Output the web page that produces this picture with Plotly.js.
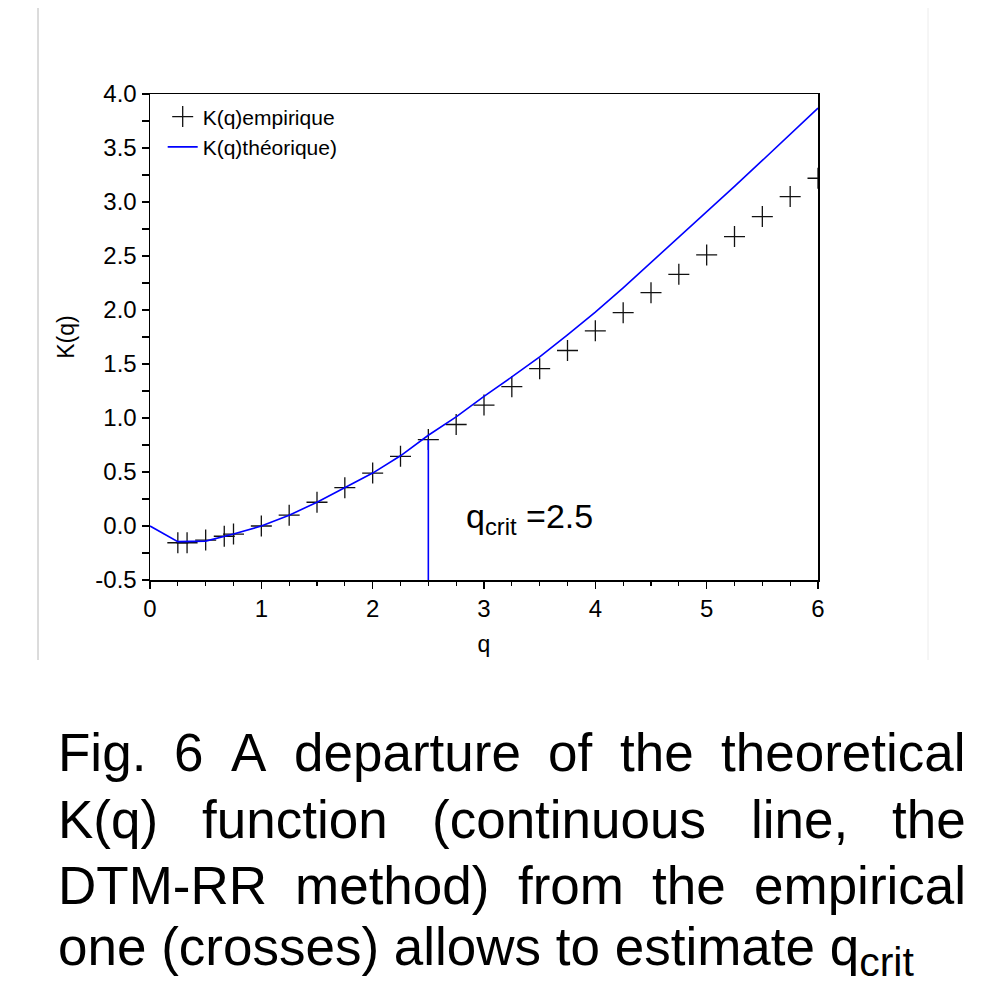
<!DOCTYPE html>
<html><head><meta charset="utf-8">
<script src="https://cdn.plot.ly/plotly-3.0.1.min.js"></script>
<style>html,body{margin:0;padding:0;background:#fff;}#chart{width:994px;height:988px;}</style>
</head><body><div id="chart"></div>
<script>
// ---- data ----
const qTheo = [0, 0.25, 0.5, 0.75, 1, 1.25, 1.5, 1.75, 2, 2.25, 2.5, 2.75, 3, 3.25, 3.5, 3.75, 4, 4.25, 4.5, 4.75, 5, 5.25, 5.5, 5.75, 6];
const kTheo = [0, -0.145, -0.14, -0.075, 0, 0.10, 0.22, 0.355, 0.49, 0.65, 0.84, 1.01, 1.20, 1.38, 1.565, 1.77, 1.98, 2.205, 2.44, 2.675, 2.905, 3.145, 3.385, 3.625, 3.87];
const qEmp = [0.25, 0.333, 0.5, 0.667, 0.75, 1, 1.25, 1.5, 1.75, 2, 2.25, 2.5, 2.75, 3, 3.25, 3.5, 3.75, 4, 4.25, 4.5, 4.75, 5, 5.25, 5.5, 5.75, 6];
const kEmp = [-0.155, -0.155, -0.13, -0.095, -0.075, 0.0, 0.10, 0.22, 0.355, 0.49, 0.645, 0.80, 0.94, 1.12, 1.29, 1.457, 1.625, 1.807, 1.975, 2.16, 2.33, 2.51, 2.68, 2.865, 3.05, 3.22];
const qCritX = [2.5, 2.5];
const qCritY = [-0.5, 0.8];
const seriesNames = ['K(q)empirique', 'K(q)théorique)'];
const xTickVals = [0, 1, 2, 3, 4, 5, 6];
const xTickText = ['0', '1', '2', '3', '4', '5', '6'];
const yTickVals = [-0.5, 0, 0.5, 1, 1.5, 2, 2.5, 3, 3.5, 4];
const yTickText = ['-0.5', '0.0', '0.5', '1.0', '1.5', '2.0', '2.5', '3.0', '3.5', '4.0'];
const xTitle = 'q';
const yTitle = 'K(q)';
const critLabel = 'q<sub>crit</sub> =2.5';
const captionJustified = [
  ['Fig.', '6', 'A', 'departure', 'of', 'the', 'theoretical'],
  ['K(q)', 'function', '(continuous', 'line,', 'the'],
  ['DTM-RR', 'method)', 'from', 'the', 'empirical']
];
const captionLast = 'one (crosses) allows to estimate q<sub><span style="font-size:41px">crit</span></sub>';

// ---- layout helpers (pixel -> paper) ----
const W = 994, H = 988;
const M = {l: 150, r: 176, t: 94, b: 408};
const PW = W - M.l - M.r, PH = H - M.t - M.b;
const px = v => (v - M.l) / PW;
const py = v => (H - M.b - v) / PH;
const FONT = '"Liberation Sans", Arial, sans-serif';
const CAP = 53;

const ctx = document.createElement('canvas').getContext('2d');
ctx.font = CAP + 'px "Liberation Sans"';
const capLeft = 57, capRight = 965;
const capCenters = [752, 819, 885, 951];
const annotations = [];
captionJustified.forEach((words, i) => {
  const widths = words.map(w => ctx.measureText(w).width);
  const total = widths.reduce((a, b) => a + b, 0);
  const gap = (capRight - capLeft - total) / (words.length - 1);
  let x = capLeft;
  words.forEach((w, j) => {
    annotations.push({text: w, xref: 'paper', yref: 'paper', x: px(x), y: py(capCenters[i]),
      xanchor: 'left', yanchor: 'middle', showarrow: false, borderpad: 0,
      font: {family: FONT, size: CAP, color: '#000'}});
    x += widths[j] + gap;
  });
});
annotations.push({text: captionLast, xref: 'paper', yref: 'paper', x: px(capLeft), y: py(capCenters[3]),
  xanchor: 'left', yanchor: 'middle', showarrow: false, borderpad: 0,
  font: {family: FONT, size: CAP, color: '#000'}});
annotations.push({text: critLabel, xref: 'paper', yref: 'paper', x: px(465), y: py(518),
  xanchor: 'left', yanchor: 'middle', showarrow: false, borderpad: 0,
  font: {family: FONT, size: 34, color: '#000'}});

const traces = [
  {x: qEmp, y: kEmp, name: seriesNames[0], type: 'scatter', mode: 'markers',
   marker: {symbol: 'cross-thin', size: 15, color: '#111', line: {width: 1.3, color: '#111'}}},
  {x: qTheo, y: kTheo, name: seriesNames[1], type: 'scatter', mode: 'lines',
   line: {color: '#0000ff', width: 1.6}},
  {x: qCritX, y: qCritY, type: 'scatter', mode: 'lines', showlegend: false,
   line: {color: '#0000ff', width: 1.6}}
];

const axisCommon = {
  showline: true, linecolor: '#000', linewidth: 1.5, mirror: true,
  ticks: 'outside', ticklen: 7, tickwidth: 1.3, tickcolor: '#000',
  showgrid: false, zeroline: false,
  tickfont: {family: FONT, size: 24, color: '#000'}
};

const layout = {
  width: W, height: H, margin: M,
  paper_bgcolor: '#fff', plot_bgcolor: '#fff',
  showlegend: true,
  legend: {x: 0.019, y: 0.995, xanchor: 'left', yanchor: 'top', bgcolor: 'rgba(0,0,0,0)',
    font: {family: FONT, size: 21, color: '#000'}, tracegroupgap: 0, itemwidth: 30},
  xaxis: Object.assign({}, axisCommon, {range: [0, 6], tickvals: xTickVals, ticktext: xTickText,
    minor: {dtick: 0.25, ticks: 'outside', ticklen: 4, tickcolor: '#000', tickwidth: 1.2},
    title: {text: xTitle, font: {family: FONT, size: 23, color: '#000'}, standoff: 14}}),
  yaxis: Object.assign({}, axisCommon, {range: [-0.5, 4], tickvals: yTickVals, ticktext: yTickText,
    minor: {dtick: 0.25, ticks: 'outside', ticklen: 7, tickcolor: '#000', tickwidth: 1.2},
    title: {text: yTitle, font: {family: FONT, size: 23, color: '#000'}, standoff: 14}}),
  shapes: [
    {type: 'line', xref: 'paper', yref: 'paper', x0: px(38), x1: px(38), y0: py(8), y1: py(660), line: {color: '#b8b8b8', width: 1}},
    {type: 'line', xref: 'paper', yref: 'paper', x0: px(928), x1: px(928), y0: py(8), y1: py(660), line: {color: '#ececec', width: 1}}
  ],
  annotations: annotations
};

Plotly.newPlot('chart', traces, layout, {displayModeBar: false, staticPlot: true});
</script>
</body></html>
